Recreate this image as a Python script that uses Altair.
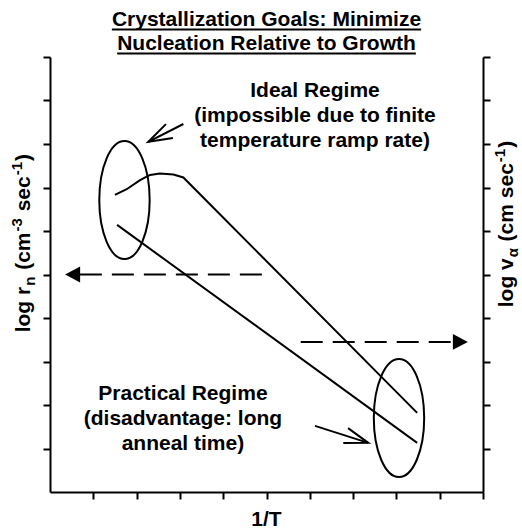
import altair as alt
import pandas as pd

# ---- curves (x = 1/T, y = log rate, arbitrary units 0..10) ----
nuc_x = [1.50, 1.77, 2.08, 2.31, 2.54, 2.85, 3.08, 8.48]
nuc_y = [6.83, 6.96, 7.17, 7.29, 7.32, 7.30, 7.23, 1.82]
grow_x = [1.55, 8.48]
grow_y = [6.14, 1.13]

# regime ellipses (centres)
ellipse_x = [1.72, 8.06]
ellipse_y = [6.71, 1.70]

# dashed pointer arrows toward each axis
left_shaft_x = [0.69, 4.97]
left_shaft_y = [5.0, 5.0]
left_tip = (0.35, 5.0)
right_shaft_x = [5.79, 9.31]
right_shaft_y = [3.45, 3.45]
right_tip = (9.65, 3.45)

# annotation arrows (tail, tip) and head direction in degrees
ideal_arrow_x = [3.08, 2.27]
ideal_arrow_y = [8.46, 8.05]
practical_arrow_x = [6.12, 7.35]
practical_arrow_y = [1.52, 1.13]
head_angles = [153, 18]

# ---- text ----
title_lines = ["Crystallization Goals: Minimize", "Nucleation Relative to Growth"]
title_x = 5.0
title_y = [10.71, 10.16]
ideal_lines = ["Ideal Regime", "(impossible due to finite", "temperature ramp rate)"]
ideal_x = 6.12
ideal_y = [9.08, 8.51, 7.93]
practical_lines = ["Practical Regime", "(disadvantage: long", "anneal time)"]
practical_x = 3.07
practical_y = [2.11, 1.54, 0.97]
xlabel = "1/T"
xlabel_pos = (5.0, -0.78)

# rotated axis titles as (text, role) pieces: role 0 normal, -1 subscript, 1 superscript
left_title = [("log r", 0), ("n", -1), (" (cm", 0), ("-3", 1),
              (" sec", 0), ("-1", 1), (")", 0)]
left_title_pos = (-0.46, 5.72)     # baseline x, centre y
right_title = [("log v", 0), ("\u03b1", -1), (" (cm sec", 0), ("-1", 1), (")", 0)]
right_title_pos = (10.69, 6.16)

FONT = "Liberation Sans"
FS = 21
FS_SMALL = 15
PX_X = 43.3   # pixels per x unit
PX_Y = 43.5   # pixels per y unit

# advance widths (1/1000 em) for a bold Arial-metric face
WIDTHS = {
    " ": 278, "(": 333, ")": 333, "-": 333, ":": 333, "/": 278,
    "1": 556, "3": 556, "C": 722, "G": 778, "M": 833, "N": 722, "R": 722, "T": 611,
    "a": 556, "c": 556, "e": 556, "g": 611, "h": 611, "i": 278, "l": 278, "m": 889,
    "n": 611, "o": 611, "r": 389, "s": 556, "t": 333, "u": 611, "v": 556, "w": 778,
    "y": 556, "z": 500, "\u03b1": 600,
}


def text_width(s, size):
    return sum(WIDTHS.get(c, 556) for c in s) * size / 1000.0


def rotated_pieces(pieces, pos):
    """Lay out mixed-size pieces along a bottom-to-top baseline."""
    sizes = [FS if r == 0 else FS_SMALL for _, r in pieces]
    gaps = [2.0 if r != 0 else 0 for _, r in pieces]
    total = sum(text_width(t, s) + g for (t, _), s, g in zip(pieces, sizes, gaps))
    bx, cy = pos
    rows = []
    off = -total / 2
    for (t, r), s, g in zip(pieces, sizes, gaps):
        shift = {0: 0, -1: 5, 1: -8}[r]   # screen-x shift of the baseline
        body = t.lstrip(" ")
        lead = text_width(t[: len(t) - len(body)], s)
        rows.append({"x": bx + shift / PX_X,
                     "y": cy + (off + lead + g / 2) / PX_Y,
                     "t": body, "fs": s})
        off += text_width(t, s) + g
    return rows


xs = alt.Scale(domain=[0, 10], nice=False, zero=False)
ys = alt.Scale(domain=[0, 10], nice=False, zero=False)
ticks = list(range(1, 11))
axis_style = dict(values=ticks, labels=False, title=None, grid=False, tickSize=7,
                  tickWidth=2, domainWidth=2, tickColor="black", domainColor="black")


def X(field="x", axis=None):
    return alt.X(f"{field}:Q", scale=xs, axis=axis)


def Y(field="y", axis=None):
    return alt.Y(f"{field}:Q", scale=ys, axis=axis)


nuc = alt.Chart(pd.DataFrame({"x": nuc_x, "y": nuc_y})).mark_line(
    color="black", strokeWidth=2).encode(
    x=X(axis=alt.Axis(orient="bottom", **axis_style)),
    y=Y(axis=alt.Axis(orient="left", **axis_style)),
    order=alt.Order("x:Q"))

grow = alt.Chart(pd.DataFrame({"x": grow_x, "y": grow_y})).mark_line(
    color="black", strokeWidth=2).encode(
    x=X(), y=Y(axis=alt.Axis(orient="right", **axis_style)))

ELLIPSE = ("M0,-1 C0.236,-1 0.427,-0.552 0.427,0 C0.427,0.552 0.236,1 0,1 "
           "C-0.236,1 -0.427,0.552 -0.427,0 C-0.427,-0.552 -0.236,-1 0,-1 Z")
ellipses = alt.Chart(pd.DataFrame({"x": ellipse_x, "y": ellipse_y})).mark_point(
    shape=ELLIPSE, size=13924, filled=False, stroke="black", strokeWidth=2,
    opacity=1).encode(x=X(), y=Y())

dash_left = alt.Chart(pd.DataFrame({"x": left_shaft_x, "y": left_shaft_y})).mark_line(
    color="black", strokeWidth=2, strokeDash=[22, 10]).encode(x=X(), y=Y())
dash_right = alt.Chart(pd.DataFrame({"x": right_shaft_x, "y": right_shaft_y})).mark_line(
    color="black", strokeWidth=2, strokeDash=[22, 10]).encode(x=X(), y=Y())

head_left = alt.Chart(pd.DataFrame({"x": [left_tip[0]], "y": [left_tip[1]]})).mark_point(
    shape="M0,0 L1,-0.53 L1,0.53 Z", size=900, filled=True, color="black",
    opacity=1).encode(x=X(), y=Y())
head_right = alt.Chart(pd.DataFrame({"x": [right_tip[0]], "y": [right_tip[1]]})).mark_point(
    shape="M0,0 L-1,-0.53 L-1,0.53 Z", size=900, filled=True, color="black",
    opacity=1).encode(x=X(), y=Y())

ann = pd.DataFrame({
    "x": ideal_arrow_x + practical_arrow_x,
    "y": ideal_arrow_y + practical_arrow_y,
    "g": ["ideal", "ideal", "practical", "practical"],
    "o": [0, 1, 0, 1],
})
ann_lines = alt.Chart(ann).mark_line(color="black", strokeWidth=2).encode(
    x=X(), y=Y(), detail="g:N", order="o:Q")
ann_heads = alt.Chart(pd.DataFrame({
    "x": [ideal_arrow_x[1], practical_arrow_x[1]],
    "y": [ideal_arrow_y[1], practical_arrow_y[1]],
    "a": head_angles,
})).mark_point(shape="M-0.95,-0.31 L0,0 L-0.95,0.31", size=2500, filled=False,
               stroke="black", strokeWidth=2, opacity=1).encode(
    x=X(), y=Y(), angle=alt.Angle("a:Q", scale=None))

labels = pd.DataFrame(
    [{"x": title_x, "y": yy, "t": t} for t, yy in zip(title_lines, title_y)]
    + [{"x": ideal_x, "y": yy, "t": t} for t, yy in zip(ideal_lines, ideal_y)]
    + [{"x": practical_x, "y": yy, "t": t} for t, yy in zip(practical_lines, practical_y)]
    + [{"x": xlabel_pos[0], "y": xlabel_pos[1], "t": xlabel}]
)
label_text = alt.Chart(labels).mark_text(
    align="center", baseline="alphabetic", font=FONT, fontSize=FS,
    fontWeight="bold", color="black").encode(x=X(), y=Y(), text="t:N")

# underline under each title line
ul = pd.DataFrame([
    {"x": title_x - text_width(t, FS) / 2 / PX_X,
     "x2": title_x + text_width(t, FS) / 2 / PX_X,
     "y": yy - 3.5 / PX_Y}
    for t, yy in zip(title_lines, title_y)
])
underline = alt.Chart(ul).mark_rule(color="black", strokeWidth=2).encode(
    x=X(), x2="x2:Q", y=Y())

rot = pd.DataFrame(rotated_pieces(left_title, left_title_pos)
                   + rotated_pieces(right_title, right_title_pos))
rot_text = alt.Chart(rot).mark_text(
    align="left", baseline="alphabetic", angle=270, font=FONT,
    fontWeight="bold", color="black").encode(
    x=X(), y=Y(), text="t:N", size=alt.Size("fs:Q", scale=None))

chart = alt.layer(
    nuc, grow, ellipses, dash_left, dash_right, head_left, head_right,
    ann_lines, ann_heads, label_text, underline, rot_text,
).resolve_axis(x="independent", y="independent").properties(
    width=433, height=435, autosize="none",
    padding={"left": 50, "top": 57, "right": 39, "bottom": 37},
    background="white",
).configure_view(strokeWidth=0)

chart.save("out.html", embed_options={"renderer": "svg", "actions": False})
